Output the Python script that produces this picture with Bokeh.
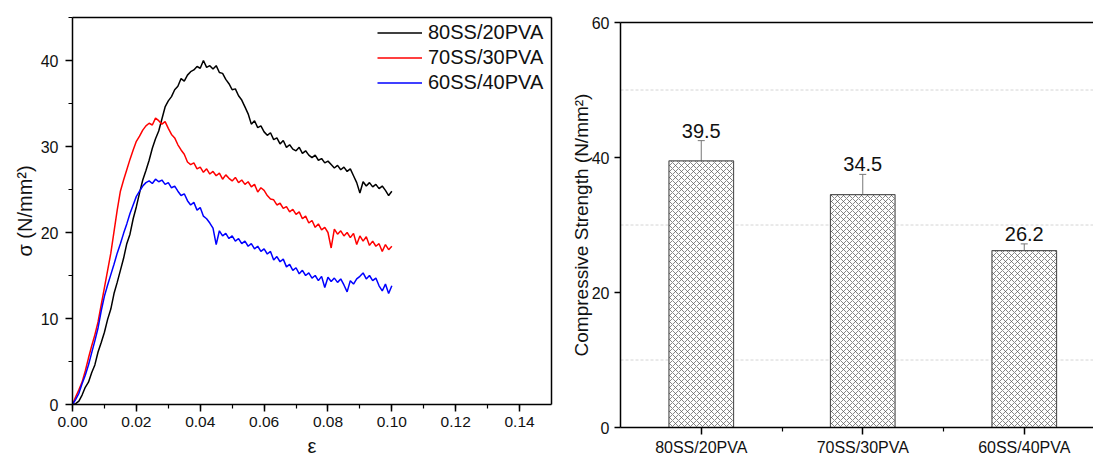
from bokeh.plotting import figure
from bokeh.layouts import row
from bokeh.models import (Range1d, SingleIntervalTicker, FixedTicker, PrintfTickFormatter,
                          Legend, LegendItem, ColumnDataSource, Whisker, TeeHead, LinearAxis)
from bokeh.core.properties import value
from bokeh.embed import file_html
from bokeh.resources import INLINE

FONT = "Liberation Sans"
TXT = "#111111"

# ---------------- data: stress-strain curves ----------------
strain = [
    0.000, 0.001, 0.002, 0.003, 0.004, 0.005, 0.006, 0.007, 0.008, 0.009,
    0.010, 0.011, 0.012, 0.013, 0.014, 0.015, 0.016, 0.017, 0.018, 0.019,
    0.020, 0.021, 0.022, 0.023, 0.024, 0.025, 0.026, 0.027, 0.028, 0.029,
    0.030, 0.031, 0.032, 0.033, 0.034, 0.035, 0.036, 0.037, 0.038, 0.039,
    0.040, 0.041, 0.042, 0.043, 0.044, 0.045, 0.046, 0.047, 0.048, 0.049,
    0.050, 0.051, 0.052, 0.053, 0.054, 0.055, 0.056, 0.057, 0.058, 0.059,
    0.060, 0.061, 0.062, 0.063, 0.064, 0.065, 0.066, 0.067, 0.068, 0.069,
    0.070, 0.071, 0.072, 0.073, 0.074, 0.075, 0.076, 0.077, 0.078, 0.079,
    0.080, 0.081, 0.082, 0.083, 0.084, 0.085, 0.086, 0.087, 0.088, 0.089,
    0.090, 0.091, 0.092, 0.093, 0.094, 0.095, 0.096, 0.097, 0.098, 0.099,
    0.100,
]
stress_80_20 = [
    0.0, 0.1, 0.4, 1.1, 2.0, 2.6, 3.7, 4.6, 6.1, 7.2,
    8.4, 9.9, 11.1, 12.9, 14.2, 15.6, 17.0, 18.7, 19.8, 21.6,
    23.0, 24.6, 26.1, 27.2, 28.4, 29.8, 30.9, 31.8, 33.2, 34.6,
    35.3, 35.8, 36.6, 37.0, 37.9, 37.6, 38.3, 38.7, 38.9, 39.3,
    39.1, 40.0, 39.2, 39.4, 39.0, 39.4, 38.6, 38.5, 37.8, 37.3,
    36.6, 36.7, 35.9, 35.4, 34.6, 33.8, 32.6, 33.0, 32.2, 32.4,
    31.7, 31.3, 31.6, 30.8, 31.0, 30.3, 30.7, 29.9, 30.2, 29.7,
    29.5, 29.9, 29.2, 29.5, 29.0, 28.7, 29.0, 28.4, 28.6, 28.1,
    28.3, 27.9, 27.5, 27.8, 27.3, 27.6, 27.1, 27.4, 26.6, 25.8,
    24.6, 25.9, 25.4, 25.8, 25.3, 25.6, 25.1, 25.4, 24.9, 24.3,
    24.8,
]
stress_70_30 = [
    0.0, 0.9, 1.7, 2.6, 3.9, 5.4, 6.8, 8.1, 9.6, 11.6,
    13.6, 15.6, 17.6, 20.1, 22.6, 24.8, 26.1, 27.3, 28.5, 29.6,
    30.6, 31.2, 31.9, 32.4, 32.7, 32.5, 33.3, 33.0, 32.6, 32.9,
    32.1, 31.4, 31.0, 30.2, 29.6, 29.1, 28.2, 27.9, 28.1, 27.4,
    27.6, 27.0, 27.4, 26.8, 27.1, 26.6, 26.9, 26.2, 26.7, 26.3,
    26.0, 26.4, 25.8, 26.1, 25.6, 25.9, 25.3, 25.6, 24.7, 25.2,
    24.9, 24.3, 23.9, 23.8, 23.2, 23.4, 22.8, 23.0, 22.4, 22.7,
    22.1, 22.4, 21.6, 21.9, 21.1, 21.4, 20.6, 21.0, 20.3, 20.6,
    20.0, 18.2, 20.4, 19.8, 20.2, 19.6, 20.0, 19.4, 19.9, 18.6,
    19.6, 19.0, 19.5, 18.5, 19.0, 18.4, 18.7, 17.8, 18.6, 18.0,
    18.4,
]
stress_60_40 = [
    0.0, 0.6, 1.3, 2.4, 3.4, 4.6, 6.0, 7.4, 8.9, 10.9,
    12.6, 13.9, 15.1, 16.3, 17.6, 18.7, 19.9, 21.0, 22.2, 23.2,
    24.2, 24.8, 25.4, 25.8, 26.0, 25.7, 26.2, 25.9, 26.1, 25.6,
    25.8, 25.2, 25.4, 24.8, 24.3, 24.5, 23.7, 23.2, 23.5, 22.6,
    22.9, 21.9, 21.6, 21.1, 20.5, 18.6, 20.2, 19.6, 19.9, 19.3,
    19.6, 19.0, 19.3, 18.7, 19.0, 18.4, 18.7, 18.1, 18.4, 17.8,
    18.1, 17.5, 17.8, 16.8, 17.2, 16.6, 16.9, 16.0, 16.3, 15.6,
    15.9, 15.2, 15.6, 15.0, 15.3, 14.7, 15.0, 14.4, 14.9, 13.6,
    14.8, 14.3, 14.7, 14.2, 14.6, 13.9, 13.1, 14.4, 14.0, 14.6,
    14.9, 15.3, 14.6, 15.0, 14.4, 14.7, 13.8, 13.2, 14.0, 12.9,
    13.8,
]
series_names = ["80SS/20PVA", "70SS/30PVA", "60SS/40PVA"]
series_colors = ["#000000", "#ff0000", "#0000ff"]

# ---------------- data: compressive strength ----------------
categories = ["80SS/20PVA", "70SS/30PVA", "60SS/40PVA"]
strength = [39.5, 34.5, 26.2]
strength_err = [3.0, 3.0, 1.0]
grid_levels = [10, 30, 50]


def style_axis(ax, tick_out=7, minor_out=4, label_size="16px"):
    ax.axis_line_color = "black"
    ax.axis_line_width = 1.5
    ax.major_tick_line_color = "black"
    ax.major_tick_line_width = 1.5
    ax.major_tick_out = tick_out
    ax.major_tick_in = 0
    ax.minor_tick_line_color = "black"
    ax.minor_tick_line_width = 1.2
    ax.minor_tick_out = minor_out
    ax.minor_tick_in = 0
    ax.major_label_text_font = FONT
    ax.major_label_text_font_size = label_size
    ax.major_label_text_color = TXT
    ax.axis_label_text_font = FONT
    ax.axis_label_text_font_style = "normal"
    ax.axis_label_text_color = TXT


def edge_axis(loc, bounds):
    return LinearAxis(fixed_location=loc, bounds=bounds, ticker=FixedTicker(ticks=[]),
                      axis_line_color="black", axis_line_width=1.5,
                      major_tick_out=0, major_tick_in=0, minor_tick_out=0, minor_tick_in=0)


H = 455
NOBORDER = dict(min_border_left=0, min_border_right=0, min_border_top=0, min_border_bottom=0)

# ================= left: stress-strain =================
W1 = 558
AX1_LEFT, AX1_RIGHT, AX1_TOP, AX1_BOTTOM = 72, 551, 17, 404   # pixel box of the axes
x1_max, y1_max = 0.15, 45
kx1 = (AX1_RIGHT - AX1_LEFT) / x1_max
ky1 = (AX1_BOTTOM - AX1_TOP) / y1_max
p1 = figure(width=W1, height=H,
            x_range=Range1d(-AX1_LEFT / kx1, (W1 - AX1_LEFT) / kx1),
            y_range=Range1d(-(H - AX1_BOTTOM) / ky1, AX1_BOTTOM / ky1),
            output_backend="svg", toolbar_location=None, **NOBORDER)
p1.grid.visible = False
p1.outline_line_color = None

items = []
for name, ys, col in zip(series_names, [stress_80_20, stress_70_30, stress_60_40], series_colors):
    r = p1.line(strain, ys, line_color=col, line_width=1.5)
    items.append(LegendItem(label=name, renderers=[r]))

legend = Legend(items=items, location=(377, 360), padding=0, margin=0, spacing=0,
                glyph_width=45, glyph_height=25, label_height=25, label_standoff=6,
                label_text_font=FONT, label_text_font_size="20px", label_text_color=TXT,
                border_line_color=None, background_fill_alpha=0)
p1.add_layout(legend)

p1.xaxis.ticker = SingleIntervalTicker(interval=0.02, num_minor_ticks=2)
p1.xaxis.formatter = PrintfTickFormatter(format="%.2f")
p1.xaxis.fixed_location = 0
p1.xaxis.bounds = (0, x1_max)
p1.yaxis.ticker = SingleIntervalTicker(interval=10, num_minor_ticks=2)
p1.yaxis.fixed_location = 0
p1.yaxis.bounds = (0, y1_max)
style_axis(p1.xaxis[0], label_size="15.5px")
style_axis(p1.yaxis[0])
p1.xaxis.major_label_standoff = 5
p1.xaxis.axis_label = "ε"
p1.xaxis.axis_label_text_font_size = "20px"
p1.xaxis.axis_label_standoff = 5
p1.yaxis.major_label_standoff = 7
p1.yaxis.axis_label = "σ (N/mm²)"
p1.yaxis.axis_label_text_font_size = "20px"
p1.yaxis.axis_label_standoff = 2

p1.add_layout(edge_axis(y1_max, (0, x1_max)), "above")
p1.add_layout(edge_axis(x1_max, (0, y1_max)), "right")

# ================= right: compressive strength =================
W2 = 535
AX2_LEFT, AX2_TOP, AX2_BOTTOM = 620, 22, 427
AX2_LEFT_LOCAL = AX2_LEFT - W1
cat_px = 161.5
y2_max = 60
ky2 = (AX2_BOTTOM - AX2_TOP) / y2_max
x2_end = (W2 - AX2_LEFT_LOCAL) / cat_px

x_pos = [i + 0.5 for i in range(len(categories))]
bounds = [i for i in range(1, len(categories))]

src = ColumnDataSource(dict(
    x=x_pos,
    top=strength,
    upper=[v + e for v, e in zip(strength, strength_err)],
    lower=[v - e for v, e in zip(strength, strength_err)],
    label=[f"{v:.1f}" for v in strength],
))

p2 = figure(width=W2, height=H,
            x_range=Range1d(-AX2_LEFT_LOCAL / cat_px, x2_end),
            y_range=Range1d(-(H - AX2_BOTTOM) / ky2, AX2_BOTTOM / ky2),
            output_backend="svg", toolbar_location=None, **NOBORDER)
p2.outline_line_color = None
p2.grid.visible = False

p2.segment(x0=[0] * len(grid_levels), x1=[x2_end] * len(grid_levels),
           y0=grid_levels, y1=grid_levels, line_color="#d4d4d4", line_width=1,
           line_dash="3 2")

p2.vbar(x="x", top="top", bottom=0, width=0.4, source=src,
        fill_color="white", line_color="#555555", line_width=1.2,
        hatch_pattern="diagonal_cross", hatch_color="#555555",
        hatch_scale=6, hatch_weight=0.7)

p2.add_layout(Whisker(source=src, base="x", upper="upper", lower="lower",
                      line_color="#777777", line_width=1,
                      upper_head=TeeHead(size=7, line_color="#777777", line_width=1),
                      lower_head=TeeHead(size=7, line_color="#777777", line_width=1)))

p2.text(x="x", y="upper", text="label", source=src, text_align="center",
        text_baseline="bottom", y_offset=-3, text_font=value(FONT),
        text_font_size=value("20px"), text_color=TXT)

p2.yaxis.ticker = FixedTicker(ticks=[0, 20, 40, 60])
p2.yaxis.fixed_location = 0
p2.yaxis.bounds = (0, y2_max)
p2.xaxis.ticker = FixedTicker(ticks=x_pos, minor_ticks=bounds)
p2.xaxis.major_label_overrides = {x: c for x, c in zip(x_pos, categories)}
p2.xaxis.fixed_location = 0
p2.xaxis.bounds = (0, x2_end)
style_axis(p2.xaxis[0], tick_out=7, minor_out=4)
style_axis(p2.yaxis[0], tick_out=6, minor_out=0)
p2.xaxis.major_label_standoff = 4
p2.yaxis.major_label_standoff = 5
p2.yaxis.axis_label = "Compressive Strength (N/mm²)"
p2.yaxis.axis_label_text_font_size = "19px"
p2.yaxis.axis_label_standoff = -3

p2.add_layout(edge_axis(y2_max, (0, x2_end)), "above")

layout = row(p1, p2)
open("out.html", "w").write(file_html(layout, INLINE))
